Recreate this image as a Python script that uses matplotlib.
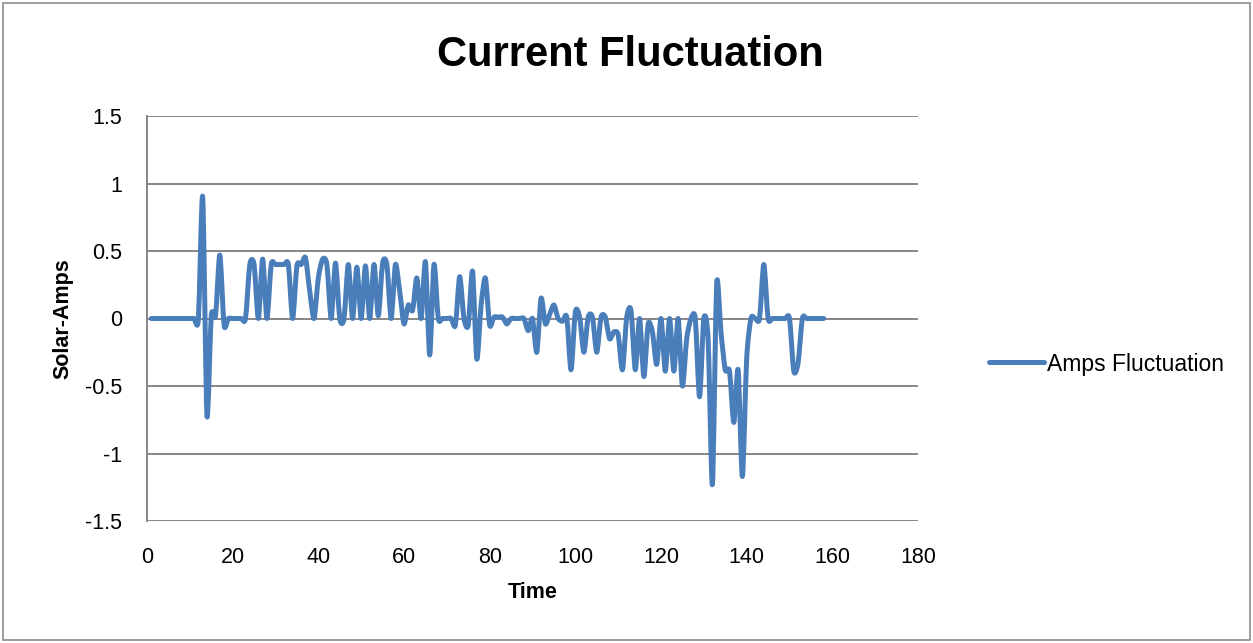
import numpy as np
import matplotlib
matplotlib.use('Agg')
import matplotlib.pyplot as plt
from matplotlib.patches import Rectangle, PathPatch
from matplotlib.path import Path
from matplotlib.lines import Line2D

plt.rcParams['font.family'] = ['Liberation Sans', 'DejaVu Sans']

# Current readings, one per time step (1..158)
amps = [
    0, 0, 0, 0, 0, 0, 0, 0, 0, 0, 0, 0,                 # 1-12
    0.90, -0.72, 0.02, 0.02, 0.47, -0.05, 0, 0, 0, 0,  # 13-22
    0, 0.40, 0.40, 0, 0.44, 0, 0.40, 0.40, 0.40, 0.40,  # 23-32
    0.40, 0, 0.39, 0.40, 0.45, 0.20, 0, 0.30, 0.44, 0.40,  # 33-42
    0, 0.41, 0, 0, 0.40, 0, 0.38, 0, 0.39, 0,           # 43-52
    0.40, 0.02, 0.41, 0.40, 0, 0.40, 0.20, -0.04, 0.10, 0.06,  # 53-62
    0.30, 0, 0.42, -0.27, 0.40, 0, 0, 0, 0, -0.05,      # 63-72
    0.31, 0, -0.05, 0.35, -0.30, 0.10, 0.30, -0.05, 0.01, 0.01,  # 73-82
    0.01, -0.04, 0, 0, 0, 0, -0.09, 0, -0.25, 0.15,     # 83-92
    -0.04, 0.03, 0.10, 0, -0.02, 0.01, -0.38, 0.05, 0.01, -0.25,  # 93-102
    0.01, 0.01, -0.25, 0.01, 0.01, -0.15, -0.10, -0.12, -0.38, 0.01,  # 103-112
    0.06, -0.38, 0, -0.43, -0.04, -0.10, -0.34, 0, -0.39, 0,  # 113-122
    -0.39, 0, -0.50, -0.15, 0, 0, -0.58, 0, -0.15, -1.23,  # 123-132
    0.26, -0.10, -0.38, -0.39, -0.77, -0.38, -1.17, -0.30, 0, 0,  # 133-142
    0, 0.40, 0, 0, 0, 0, 0, 0, -0.39, -0.33,            # 143-152
    0, 0, 0, 0, 0, 0,                                   # 153-158
]
time = np.arange(1, len(amps) + 1)

x_ticks = [0, 20, 40, 60, 80, 100, 120, 140, 160, 180]
y_ticks = [-1.5, -1, -0.5, 0, 0.5, 1, 1.5]
y_labels = ['-1.5', '-1', '-0.5', '0', '0.5', '1', '1.5']

LINE_COLOR = '#4a7ebb'
LW = 3.6


def smooth_path(x, y, k=1 / 8):
    # Excel-style smoothed line: cubic Bezier segments through each point
    pts = np.column_stack([x, y]).astype(float)
    ext = np.vstack([pts[0], pts, pts[-1]])
    verts = [pts[0]]
    codes = [Path.MOVETO]
    for i in range(len(pts) - 1):
        p0, p1, p2, p3 = ext[i], ext[i + 1], ext[i + 2], ext[i + 3]
        verts += [p1 + (p2 - p0) * k, p2 - (p3 - p1) * k, p2]
        codes += [Path.CURVE4] * 3
    return Path(verts, codes)


W, H = 1253, 643
fig = plt.figure(figsize=(W / 100, H / 100), dpi=100)
fig.patches.append(Rectangle((3 / W, 3 / H), 1 - 6 / W, 1 - 6 / H,
                             transform=fig.transFigure, fill=False,
                             edgecolor='#8c8c8c', linewidth=1.2))

ax = fig.add_axes([147 / W, 1 - 521 / H, (918 - 147) / W, (521 - 116) / H])
ax.add_patch(PathPatch(smooth_path(time, amps), facecolor='none',
                       edgecolor=LINE_COLOR, linewidth=LW,
                       joinstyle='round', capstyle='round', zorder=3))

ax.set_xlim(0, 180)
ax.set_ylim(-1.5, 1.5)
ax.set_xticks(x_ticks)
ax.set_yticks(y_ticks)
ax.set_yticklabels(y_labels)
ax.tick_params(length=0, labelsize=15.5)
ax.tick_params(axis='x', pad=19)
ax.tick_params(axis='y', pad=18)
ax.grid(axis='y', color='#868686', linewidth=1.4)
ax.set_axisbelow(True)
for s in ['top', 'right', 'bottom']:
    ax.spines[s].set_visible(False)
ax.spines['left'].set_color('#868686')
ax.spines['left'].set_linewidth(1.4)

ax.set_xlabel('Time', fontsize=15.5, fontweight='bold', labelpad=10)
ax.set_ylabel('Solar-Amps', fontsize=15.5, fontweight='bold', labelpad=8)
fig.text(630 / W, 1 - 55 / H, 'Current Fluctuation', fontsize=30,
         fontweight='bold', ha='center', va='center')

handle = Line2D([], [], color=LINE_COLOR, linewidth=LW, solid_capstyle='round')
fig.legend([handle], ['Amps Fluctuation'], loc='center left',
           bbox_to_anchor=(968 / W, 1 - 364 / H), frameon=False,
           fontsize=16.5, handlelength=2.4, handletextpad=0.15)

fig.savefig('out.png', dpi=100)
